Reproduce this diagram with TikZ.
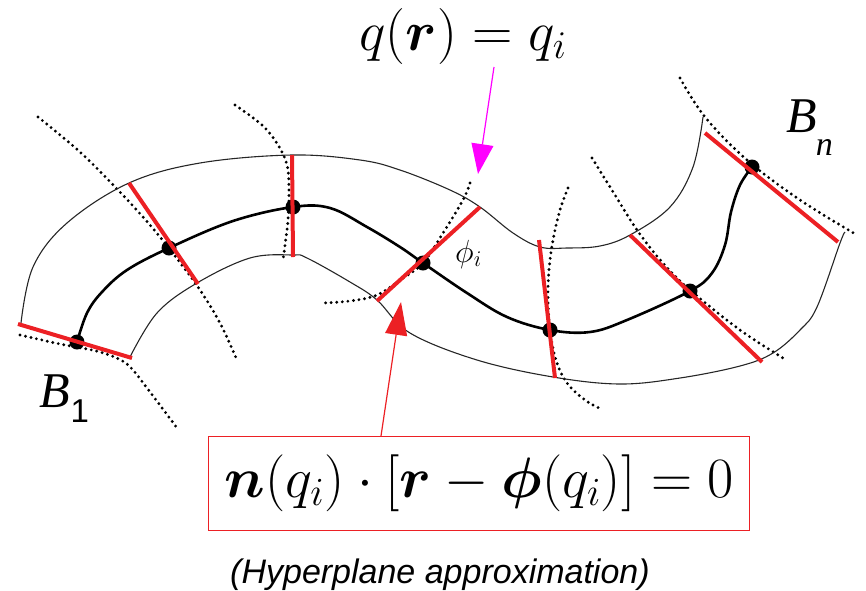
\RequirePackage{fix-cm}
\documentclass[tikz,border=0pt]{standalone}
\usepackage{bm}
\usepackage{fontspec}
\newfontfamily\capfont{Liberation Sans}
\newfontfamily\serfont{Liberation Serif}
\usetikzlibrary{arrows.meta}
\definecolor{hred}{RGB}{236,32,36}
\definecolor{hmag}{RGB}{255,0,255}
\begin{document}
\begin{tikzpicture}[x=1pt,y=-1pt,
  band/.style={line width=1.1pt, black!85},
  spine/.style={line width=2.6pt},
  cut/.style={line width=4pt, hred},
  dotline/.style={line width=3.2pt, line cap=round, dash pattern=on 0pt off 5.6pt},
  bead/.style={circle, fill=black, inner sep=0pt, minimum size=15pt},
  plain/.style={inner sep=0pt}]
\useasboundingbox (0,0) rectangle (866,590);

% dotted level curves
\draw[dotline] plot[smooth, tension=0.6] coordinates {(38,117) (80,152) (118,190) (150,225) (175,256) (200,290) (220,323) (237,360)};
\draw[dotline] plot[smooth, tension=0.6] coordinates {(235,105) (262,125) (278,145) (287,165) (289,190) (288,220) (285,245) (283,260)};
\draw[dotline] plot[smooth, tension=0.5] coordinates {(20,335) (60,344) (100,352) (127,364) (150,392) (177,428)};
\draw[dotline] plot[smooth, tension=0.6] coordinates {(470,183) (463,200) (443,233) (423,263) (400,280) (377,295) (350,301) (322,303)};
\draw[dotline] plot[smooth, tension=0.6] coordinates {(568,188) (560,210) (553,240) (549,270) (548,300) (550,330) (556,360) (567,383) (585,400) (603,410)};
\draw[dotline] plot[smooth, tension=0.6] coordinates {(592,158) (615,195) (637,230) (662,262) (690,290) (740,330) (783,358)};
\draw[dotline] plot[smooth, tension=0.6] coordinates {(680,78) (705,117) (747,160) (800,200) (857,235)};

% band boundaries
\draw[band] plot[smooth, tension=0.6] coordinates {(21,323) (33,267) (67,223) (129,183) (200,163) (292,155) (360,160) (400,170) (450,190) (480,207) (513,233) (540,247) (567,248) (600,246) (630,235) (670,207) (693,167) (703,117)};
\draw[band] plot[smooth, tension=0.6] coordinates {(130,357) (157,313) (197,283) (250,258) (293,255) (307,258) (350,282) (377,300) (410,333) (477,360) (553,377) (620,384) (680,378) (740,366) (773,353) (800,330) (817,307) (840,243) (845,232)};

% spine
\coordinate (c1) at (77,342);
\coordinate (c2) at (169,248);
\coordinate (c3) at (293,207);
\coordinate (c4) at (423,263);
\coordinate (c5) at (550,330);
\coordinate (c6) at (690,291);
\coordinate (c7) at (752,167);
\draw[spine] plot[smooth, tension=0.6] coordinates {(c1) (87,313) (102,292) (127,270) (c2) (233,221) (c3) (330,208) (367,227) (400,247) (c4) (467,293) (507,317) (c5) (590,332) (627,320) (c6) (712,273) (725,245) (731,212) (740,185) (c7)};

\node[bead] (b1) at (c1) {};
\node[bead] (b2) at (c2) {};
\node[bead] (b3) at (c3) {};
\node[bead] (b4) at (c4) {};
\node[bead] (b5) at (c5) {};
\node[bead] (b6) at (c6) {};
\node[bead] (b7) at (c7) {};

% hyperplane cuts
\draw[cut] (18,324) -- (132,358);
\draw[cut] (129,183) -- (198,284);
\draw[cut] (292,155) -- (293,257);
\draw[cut] (480,207) -- (377,301);
\draw[cut] (539,240) -- (555,378);
\draw[cut] (630,235) -- (762,362);
\draw[cut] (705,133) -- (838,242);

% labels
\node[plain, anchor=base] (qlab) at (463,50) {\fontsize{56}{62}\selectfont $q(\bm{r}) = q_i$};
\node[draw=hred, line width=1pt, minimum width=541pt, minimum height=94pt, inner sep=0pt] (eqbox) at (478.5,483)
  {\hspace{2pt}\raisebox{-4pt}{\fontsize{57}{62}\selectfont $\bm{n}(q_i)\cdot[\bm{r}-\bm{\phi}(q_i)]=0$}};
\node[plain, anchor=base] (cap) at (440,583) {\fontsize{34}{40}\selectfont\capfont\itshape (Hyperplane approximation)};
\node[plain, anchor=base west] (B1) at (39,407) {\fontsize{50}{56}\selectfont\serfont\itshape B\kern1pt\raisebox{-15pt}{\fontsize{33}{36}\selectfont\capfont\upshape 1}};
\node[plain, anchor=base west] (Bn) at (786,132) {\fontsize{50}{56}\selectfont\serfont\itshape B\kern-1pt\raisebox{-23pt}{\fontsize{34}{38}\selectfont n}};
\node[plain, anchor=base west] (phil) at (455,262) {\fontsize{32}{36}\selectfont $\phi_i$};

% arrows
\coordinate (magS) at (494,67);
\coordinate (magT) at (478,174);
\draw[line width=1.2pt, hmag, -{Triangle[width=22pt,length=30pt]}] (magS) -- (magT);
\coordinate (redS) at (381,436);
\coordinate (redT) at (401,302);
\draw[line width=1.2pt, hred, -{Triangle[width=22pt,length=33pt]}] (redS) -- (redT);
\end{tikzpicture}
\end{document}
